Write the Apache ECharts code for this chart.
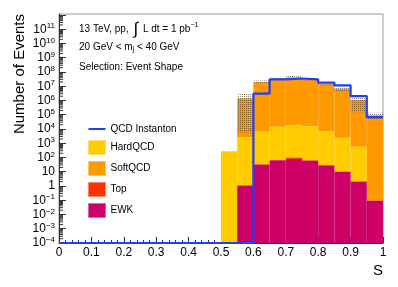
<!DOCTYPE html>
<html>
<head>
<meta charset="utf-8">
<script src="https://cdn.jsdelivr.net/npm/echarts@6/dist/echarts.min.js"></script>
<style>html,body{margin:0;padding:0;background:#fff}#c{width:398px;height:287px}</style>
</head>
<body>
<div id="c"></div>
<script>
// ---- data ----
const binLow   = [0.50, 0.55, 0.60, 0.65, 0.70, 0.75, 0.80, 0.85, 0.90, 0.95];
const binWidth = 0.05;
const ewk      = [0, 1.07, 32, 65, 78, 61, 29, 9.8, 2.1, 0.093];
const top_     = [0, 0, 0, 0, 20, 0, 0, 0, 0, 0];
const hardQCD  = [275, 2700, 6420, 14300, 17600, 15700, 7070, 2390, 563, 0];
const softQCD  = [0, 1.41e6, 1.96e7, 3.4e7, 4.2e7, 3.03e7, 1.47e7, 6.8e6, 1.1e6, 9.4e4];
const bandHigh = [0, 3.2e6, 2.57e7, 4.57e7, 5.4e7, 3.5e7, 1.8e7, 9.3e6, 1.5e6, 1.4e5];
const bandLow  = [0, 5.8e3, 1.74e7, 3.0e7, 3.5e7, 2.6e7, 1.3e7, 4.4e6, 1.5e5, 5.2e4];
const instanton= [0, 0, 3.0e6, 3.0e7, 3.5e7, 3.0e7, 1.8e7, 1.15e7, 2.0e6, 6.8e4];
// log10 exponents of the y tick labels
const yTickExp = [-4, -3, -2, -1, 0, 1, 2, 3, 4, 5, 6, 7, 8, 9, 10, 11];
const yMinExp = -4, yMaxExp = 12.07;

const colors = {hard:'#ffcc00', soft:'#ff9900', top:'#ff3300', ewk:'#cc0066', inst:'#1f3fff'};

// The y axis is laid out in log10 space (a log10 scale): values are mapped with lg().
const lg = v => (v > 0 ? Math.log10(v) : yMinExp);

// cumulative stack
const cumE = ewk.map(v => v);
const cumT = cumE.map((v,i) => v + top_[i]);
const cumH = cumT.map((v,i) => v + hardQCD[i]);
const cumS = cumH.map((v,i) => v + softQCD[i]);

function layer(lo, hi) {
  return binLow.map((x,i) => {
    const l = lo ? lo[i] : 0, h = hi[i];
    return [x, x + binWidth, lg(l), h > l ? lg(h) : lg(l)];
  });
}
function rectItem(params, api) {
  const x0 = api.value(0), x1 = api.value(1);
  const lo = api.value(2), hi = api.value(3);
  if (!(hi > lo)) return null;
  const p0 = api.coord([x0, hi]);
  const p1 = api.coord([x1, lo]);
  return {type:'rect', shape:{x:p0[0], y:p0[1], width:p1[0]-p0[0], height:p1[1]-p0[1]},
          style:{fill: api.visual('color')}};
}

// hatch pattern for the uncertainty band
const pc = document.createElement('canvas');
pc.width = 2; pc.height = 2;
const pctx = pc.getContext('2d');
pctx.fillStyle = 'rgba(70,60,50,0.6)';
pctx.fillRect(0,0,1,1);
const hatch = {image: pc, repeat: 'repeat'};

// minor log ticks (2..9 in each decade)
const minorTicks = [];
for (let e = -4; e <= 12; e++) for (let k = 2; k <= 9; k++) {
  const t = Math.log10(k) + e;
  if (t < yMaxExp) minorTicks.push([t]);
}

// step line
const lineData = [[0, yMinExp]];
binLow.forEach((x,i) => lineData.push([x, lg(instanton[i])]));
lineData.push([1, lg(instanton[instanton.length-1])]);

const chart = echarts.init(document.getElementById('c'), null, {renderer:'canvas'});
const font = 'Liberation Sans, Arial, Helvetica, sans-serif';
chart.setOption({
  animation:false,
  textStyle:{fontFamily:font},
  grid:{left:59, right:15, top:14, bottom:44, show:true, borderColor:'#999', borderWidth:1},
  xAxis:{type:'value', min:0, max:1, interval:0.1,
    name:'S', nameLocation:'end', nameGap:0,
    nameTextStyle:{fontSize:15, color:'#000', align:'right', verticalAlign:'top', padding:[20,0,0,0]},
    axisLine:{onZero:false, lineStyle:{color:'#333'}},
    axisTick:{inside:true, length:6, lineStyle:{color:'#333'}},
    minorTick:{show:true, splitNumber:5, length:3, lineStyle:{color:'#333'}},
    splitLine:{show:false},
    axisLabel:{fontSize:12, color:'#000', margin:4,
      formatter: v => (v === 0 ? '0' : (Math.abs(v-1) < 1e-9 ? '1' : v.toFixed(1)))}
  },
  yAxis:{type:'value', min:yMinExp, max:yMaxExp, interval:1,
    name:'Number of Events', nameLocation:'end', nameRotate:90, nameGap:0,
    nameTextStyle:{fontSize:15, color:'#000', align:'right', verticalAlign:'bottom', padding:[0,0,32,0]},
    axisLine:{show:true, onZero:false, lineStyle:{color:'#333'}},
    axisTick:{inside:true, length:7, lineStyle:{color:'#333'}},
    splitLine:{show:false},
    axisLabel:{fontSize:12, color:'#000', margin:4, showMaxLabel:false,
      formatter: v => {
        const e = Math.round(v);
        if (yTickExp.indexOf(e) < 0) return '';
        if (e === 0) return '1';
        if (e === 1) return '10';
        return '10{s|' + (e < 0 ? '\u2212' + (-e) : e) + '}';
      },
      rich:{s:{fontSize:8, padding:[0,0,6,0], color:'#000'}}
    }
  },
  legend:{orient:'vertical', left:83, top:119, itemWidth:17, itemHeight:14, itemGap:6,
    textStyle:{fontSize:10, color:'#000', fontFamily:font},
    data:[
      {name:'QCD Instanton', icon:'path://M0,6.5 L17,6.5 L17,8.5 L0,8.5 Z'},
      {name:'HardQCD', icon:'rect', itemStyle:{borderColor:'#ffe066', borderWidth:1}},
      {name:'SoftQCD', icon:'rect', itemStyle:{borderColor:'#ffc266', borderWidth:1}},
      {name:'Top', icon:'rect', itemStyle:{borderColor:'#ff8566', borderWidth:1}},
      {name:'EWK', icon:'rect', itemStyle:{borderColor:'#e066a3', borderWidth:1}}
    ]
  },
  graphic:[
    {type:'text', left:79, top:21, style:{
      text:'13 TeV, pp, {i|\u222B} L dt = 1 pb{s|\u22121}', fill:'#000', font:'10px ' + font,
      rich:{i:{fontSize:17, fontFamily:font, padding:[0,2,0,2]}, s:{fontSize:7, padding:[0,0,8,0]}}}},
    {type:'text', left:79, top:42, style:{
      text:'20 GeV < m{j|j} < 40 GeV', fill:'#000', font:'10px ' + font,
      rich:{j:{fontSize:7, padding:[5,0,0,0]}}}},
    {type:'text', left:79, top:62, style:{
      text:'Selection: Event Shape', fill:'#000', font:'10px ' + font}}
  ],
  series:[
    {name:'SoftQCD', type:'custom', renderItem:rectItem, itemStyle:{color:colors.soft},
     encode:{x:[0,1], y:[2,3]}, data:layer(cumH, cumS), z:2},
    {name:'HardQCD', type:'custom', renderItem:rectItem, itemStyle:{color:colors.hard},
     encode:{x:[0,1], y:[2,3]}, data:layer(cumT, cumH), z:2},
    {name:'Top', type:'custom', renderItem:rectItem, itemStyle:{color:colors.top},
     encode:{x:[0,1], y:[2,3]}, data:layer(cumE, cumT), z:2},
    {name:'EWK', type:'custom', renderItem:rectItem, itemStyle:{color:colors.ewk},
     encode:{x:[0,1], y:[2,3]}, data:layer(null, cumE), z:2},
    {name:'band', type:'custom', z:3, encode:{x:[0,1], y:[2,3]},
     renderItem:(params, api) => {
       const lo = api.value(2), hi = api.value(3);
       if (!(hi > lo) || lo <= yMinExp) return null;
       const p0 = api.coord([api.value(0), hi]), p1 = api.coord([api.value(1), lo]);
       return {type:'rect', shape:{x:p0[0], y:p0[1], width:p1[0]-p0[0], height:p1[1]-p0[1]},
               style:{fill:hatch}};
     },
     data:layer(bandLow, bandHigh)},
    {name:'minorTicks', type:'custom', z:5, silent:true, clip:false, encode:{y:0},
     renderItem:(params, api) => {
       const p = api.coord([0, api.value(0)]);
       return {type:'line', shape:{x1:p[0], y1:p[1], x2:p[0]+4, y2:p[1]}, style:{stroke:'#333', lineWidth:1}};
     },
     data:minorTicks},
    {name:'QCD Instanton', type:'line', step:'end', data:lineData, showSymbol:false, symbol:'none',
     clip:false, z:6, lineStyle:{color:colors.inst, width:2.2}, itemStyle:{color:colors.inst}}
  ]
});
</script>
</body>
</html>
